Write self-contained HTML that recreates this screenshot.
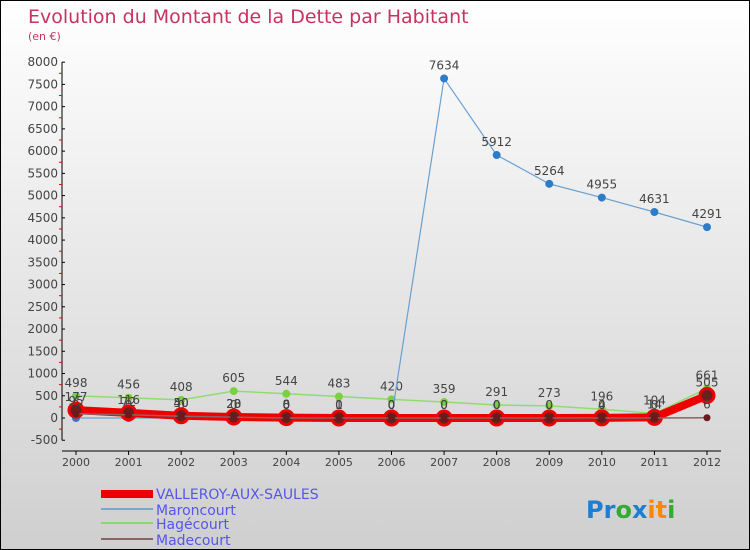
<!DOCTYPE html>
<html><head><meta charset="utf-8"><style>
body{margin:0}
#c{width:750px;height:550px;position:relative;overflow:hidden;background:linear-gradient(#ffffff,#cfcfcf);box-sizing:border-box;border:1px solid #000;font-family:"DejaVu Sans","Liberation Sans",sans-serif}
</style></head><body>
<div id="c">
<svg id="s" width="750" height="550" style="position:absolute;left:0;top:0">
<text x="27" y="22" font-size="19" fill="#c8325e">Evolution du Montant de la Dette par Habitant</text>
<text x="27" y="39" font-size="11" fill="#c8325e">(en €)</text>
<g id="axes"></g><g id="series"></g>
<g>
<rect x="100" y="489" width="52" height="8" fill="#e00"/>
<text x="155" y="498" font-size="14" fill="#5555ee">VALLEROY-AUX-SAULES</text>
<line x1="100" x2="152" y1="508" y2="508" stroke="#7aa6cc" stroke-width="2"/>
<text x="155" y="514" font-size="14" fill="#5555ee">Maroncourt</text>
<line x1="100" x2="152" y1="522" y2="522" stroke="#8fd870" stroke-width="2"/>
<text x="155" y="528" font-size="14" fill="#5555ee">Hagécourt</text>
<line x1="100" x2="152" y1="538" y2="538" stroke="#8a6464" stroke-width="2"/>
<text x="155" y="544" font-size="14" fill="#5555ee">Madecourt</text>
</g>
<text x="585" y="517" font-size="24" font-weight="bold"><tspan fill="#1e7fd0">Pr</tspan><tspan fill="#3a3">o</tspan><tspan fill="#1e7fd0">x</tspan><tspan fill="#f80">it</tspan><tspan fill="#3a3">i</tspan></text>
</svg>
</div>
<script>
const years=[2000,2001,2002,2003,2004,2005,2006,2007,2008,2009,2010,2011,2012];
const yTicks=[-500,0,500,1000,1500,2000,2500,3000,3500,4000,4500,5000,5500,6000,6500,7000,7500,8000];
const valleroy=[177,116,50,23,8,1,0,0,0,0,4,14,505];
const maroncourt=[0,0,0,0,0,0,0,7634,5912,5264,4955,4631,4291];
const hagecourt=[498,456,408,605,544,483,420,359,291,273,196,104,661];
const madecourt=[95,72,40,20,0,0,0,0,0,0,0,0,6];
const NS="http://www.w3.org/2000/svg";
function X(i){return 75+i*(706-75)/12;}
function Y(v){return 417-v*22.24/500;}
function mk(t,a,p){const e=document.createElementNS(NS,t);for(const k in a)e.setAttribute(k,a[k]);p.appendChild(e);return e;}
const ax=document.getElementById('axes'),se=document.getElementById('series');
let l=mk('line',{x1:61,x2:61,y1:Y(8000),y2:Y(-500),stroke:'#000'},ax);


l=mk('line',{x1:61,x2:720,y1:450,y2:450,stroke:'#000'},ax);


yTicks.forEach((v,i)=>{
 mk('line',{x1:61,x2:64,y1:Y(v),y2:Y(v),stroke:'#000'},ax);
 if(i<yTicks.length-1)mk('line',{x1:58,x2:61,y1:Y(v+250),y2:Y(v+250),stroke:'#e00'},ax);
 const t=mk('text',{x:57,y:Y(v)+4,'font-size':12,fill:'#444','text-anchor':'end'},ax);t.textContent=v;
 
 
});
years.forEach((y,i)=>{
 mk('line',{x1:X(i),x2:X(i),y1:450,y2:454,stroke:'#000'},ax);
 const t=mk('text',{x:X(i),y:465,'font-size':11,fill:'#444','text-anchor':'middle'},ax);t.textContent=y;
 
 
});
function draw(arr,name,color,w,r,fill,labels){
 const g=mk('g',{},se);
 
 
 mk('polyline',{points:arr.map((v,i)=>X(i)+','+Y(v)).join(' '),fill:'none',stroke:color,'stroke-width':w,'stroke-linejoin':'round'},g);
 arr.forEach((v,i)=>{
  const c=mk('circle',{cx:X(i),cy:Y(v),r:r,fill:fill,stroke:color,'stroke-width':r>5?3:0},g);
  
  
  if(labels){const t=mk('text',{x:X(i),y:Y(v)-9,'font-size':12,fill:'#444','text-anchor':'middle'},g);t.textContent=v;}
 });
}
draw(hagecourt,'hagecourt','#90dc70',1.5,4,'#7ad040',true);
draw(maroncourt,'maroncourt','#6aa0d0',1.2,4,'#2e7cc8',true);
draw(valleroy,'valleroy','#ee0000',8,7,'#6a2020',true);
draw(madecourt,'madecourt','#8a6464',1.5,3.5,'#6a1a1a',true);
</script>
</body></html>
